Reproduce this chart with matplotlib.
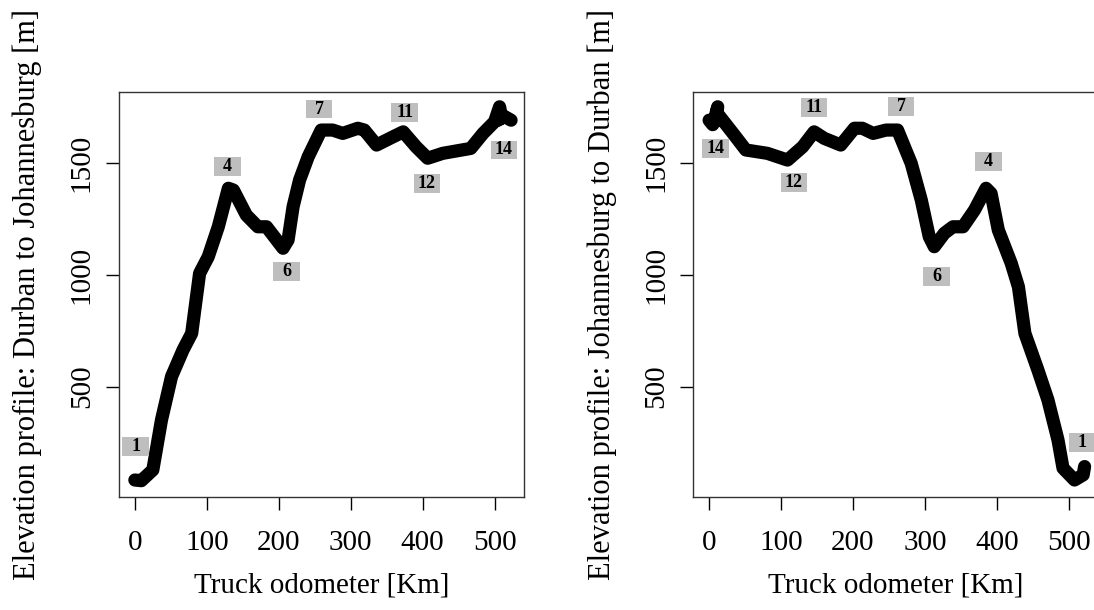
import matplotlib
matplotlib.use("Agg")
import matplotlib.pyplot as plt
from matplotlib.patches import Rectangle

plt.rcParams['font.family'] = ['Liberation Serif', 'DejaVu Serif']

# Durban -> Johannesburg (left panel)
km_dj = [0, 9, 25, 37, 51, 67, 79, 90, 102, 116, 130, 137, 155, 171, 183, 206,
         213, 220, 229, 241, 259, 275, 289, 310, 319, 336, 359, 373, 391, 407,
         428, 467, 484, 500, 507, 510, 505, 512, 523]
elev_dj = [83, 80, 128, 351, 545, 664, 738, 1006, 1080, 1214, 1386, 1378, 1266,
           1214, 1214, 1118, 1155, 1304, 1423, 1527, 1646, 1646, 1631, 1654,
           1646, 1579, 1616, 1638, 1571, 1520, 1542, 1564, 1631, 1683, 1750,
           1700, 1690, 1710, 1690]

# Johannesburg -> Durban (right panel)
km_jd = [0, 5, 9, 12, 8, 14, 35, 51, 81, 109, 130, 146, 160, 183, 202, 213,
         228, 246, 262, 281, 295, 306, 313, 327, 339, 353, 369, 385, 392, 402,
         420, 430, 439, 457, 471, 485, 492, 508, 520, 522]
elev_jd = [1690, 1670, 1690, 1750, 1700, 1710, 1624, 1557, 1542, 1512, 1571,
           1638, 1609, 1579, 1654, 1654, 1631, 1646, 1646, 1497, 1333, 1170,
           1125, 1185, 1214, 1214, 1289, 1386, 1363, 1200, 1051, 946, 738, 575,
           441, 262, 136, 83, 106, 143]

# stop labels
stops_dj = ['1', '4', '6', '7', '11', '12', '14']
stop_km_dj = [1, 129, 211, 256, 375, 406, 513]
stop_el_dj = [232, 1482, 1016, 1740, 1723, 1408, 1557]

stops_jd = ['14', '12', '11', '7', '4', '6', '1']
stop_km_jd = [9, 118, 146, 267, 388, 316, 519]
stop_el_jd = [1564, 1412, 1747, 1750, 1504, 991, 252]

xticks = [0, 100, 200, 300, 400, 500]
yticks = [500, 1000, 1500]

fig = plt.figure(figsize=(10.94, 6.10), dpi=100)
ax1 = fig.add_axes([0.1088, 0.1852, 0.3702, 0.664])
ax2 = fig.add_axes([0.6337, 0.1852, 0.3702, 0.664])


def panel(ax, km, elev, stops, skm, sel, ylabel):
    ax.plot(km, elev, color='black', lw=9.5, solid_capstyle='round',
            solid_joinstyle='round')
    for lab, x, y in zip(stops, skm, sel):
        ax.add_patch(Rectangle((x - 18.5, y - 42), 37, 84, facecolor='#bebebe',
                               edgecolor='none', zorder=3))
        ax.text(x, y, lab, ha='center', va='center', fontsize=13,
                fontweight='bold', zorder=4)
    ax.set_xlim(-22, 541)
    ax.set_ylim(7, 1816)
    ax.set_xticks(xticks)
    ax.set_yticks(yticks)
    ax.tick_params(direction='out', length=9.5, width=1, labelsize=21)
    ax.tick_params(axis='x', pad=14)
    ax.tick_params(axis='y', pad=8)
    for t in ax.get_yticklabels():
        t.set_rotation(90)
        t.set_va('center')
    for s in ax.spines.values():
        s.set_linewidth(1)
        s.set_color('#333333')
    ax.set_xlabel('Truck odometer [Km]', fontsize=21, labelpad=12)
    ax.set_ylabel(ylabel, fontsize=22, labelpad=19)


panel(ax1, km_dj, elev_dj, stops_dj, stop_km_dj, stop_el_dj,
      'Elevation profile: Durban to Johannesburg [m]')
panel(ax2, km_jd, elev_jd, stops_jd, stop_km_jd, stop_el_jd,
      'Elevation profile: Johannesburg to Durban [m]')

fig.savefig('out.png', dpi=100)
